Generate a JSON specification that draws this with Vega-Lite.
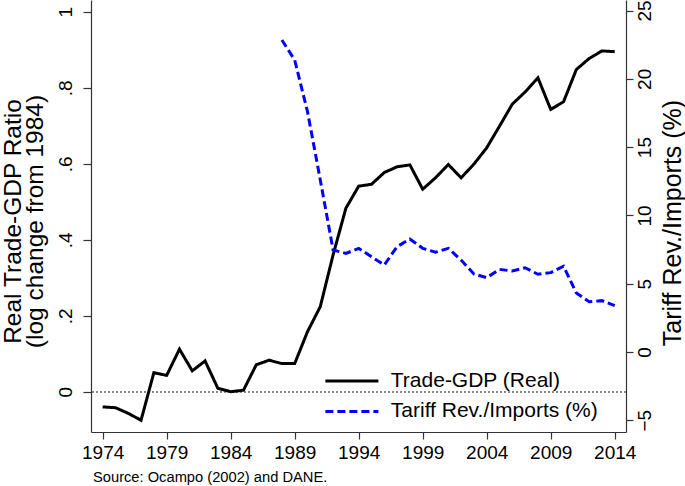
{
  "$schema": "https://vega.github.io/schema/vega-lite/v6.json",
  "width": 535,
  "height": 432,
  "autosize": {"type": "none"},
  "padding": {"left": 91, "top": 0, "right": 59, "bottom": 54},
  "background": "white",
  "config": {
    "view": {"stroke": null},
    "font": "Liberation Sans",
    "axis": {"grid": false, "domainColor": "#333333", "tickColor": "#333333", "labelColor": "#000000", "titleColor": "#000000", "labelFont": "Liberation Sans", "titleFont": "Liberation Sans", "titleFontWeight": "normal", "domainWidth": 1.2, "tickWidth": 1.2},
    "legend": {"orient": "none", "legendX": 248.4, "legendY": 368.4, "symbolType": "M-2.5,0H2.5", "symbolSize": 449.4, "symbolStrokeWidth": 3, "labelFontSize": 21, "labelFont": "Liberation Sans", "labelColor": "#000000", "labelOffset": 26.4, "labelLimit": 400, "rowPadding": 7.5, "padding": 0, "titlePadding": 0}
  },
  "title": {"text": "Source: Ocampo (2002) and DANE.", "orient": "bottom", "anchor": "start", "frame": "group", "fontSize": 14.7, "fontWeight": "normal", "font": "Liberation Sans", "color": "#000000", "offset": 8, "dx": 2},
  "data": {"values": [
    {"year": 1974, "series": "Trade-GDP (Real)", "value": -0.040},
    {"year": 1975, "series": "Trade-GDP (Real)", "value": -0.042},
    {"year": 1976, "series": "Trade-GDP (Real)", "value": -0.057},
    {"year": 1977, "series": "Trade-GDP (Real)", "value": -0.075},
    {"year": 1978, "series": "Trade-GDP (Real)", "value": 0.050},
    {"year": 1979, "series": "Trade-GDP (Real)", "value": 0.043},
    {"year": 1980, "series": "Trade-GDP (Real)", "value": 0.112},
    {"year": 1981, "series": "Trade-GDP (Real)", "value": 0.055},
    {"year": 1982, "series": "Trade-GDP (Real)", "value": 0.081},
    {"year": 1983, "series": "Trade-GDP (Real)", "value": 0.009},
    {"year": 1984, "series": "Trade-GDP (Real)", "value": 0.000},
    {"year": 1985, "series": "Trade-GDP (Real)", "value": 0.004},
    {"year": 1986, "series": "Trade-GDP (Real)", "value": 0.071},
    {"year": 1987, "series": "Trade-GDP (Real)", "value": 0.083},
    {"year": 1988, "series": "Trade-GDP (Real)", "value": 0.074},
    {"year": 1989, "series": "Trade-GDP (Real)", "value": 0.074},
    {"year": 1990, "series": "Trade-GDP (Real)", "value": 0.158},
    {"year": 1991, "series": "Trade-GDP (Real)", "value": 0.224},
    {"year": 1992, "series": "Trade-GDP (Real)", "value": 0.360},
    {"year": 1993, "series": "Trade-GDP (Real)", "value": 0.483},
    {"year": 1994, "series": "Trade-GDP (Real)", "value": 0.541},
    {"year": 1995, "series": "Trade-GDP (Real)", "value": 0.546},
    {"year": 1996, "series": "Trade-GDP (Real)", "value": 0.577},
    {"year": 1997, "series": "Trade-GDP (Real)", "value": 0.592},
    {"year": 1998, "series": "Trade-GDP (Real)", "value": 0.597},
    {"year": 1999, "series": "Trade-GDP (Real)", "value": 0.533},
    {"year": 2000, "series": "Trade-GDP (Real)", "value": 0.563},
    {"year": 2001, "series": "Trade-GDP (Real)", "value": 0.598},
    {"year": 2002, "series": "Trade-GDP (Real)", "value": 0.563},
    {"year": 2003, "series": "Trade-GDP (Real)", "value": 0.599},
    {"year": 2004, "series": "Trade-GDP (Real)", "value": 0.642},
    {"year": 2005, "series": "Trade-GDP (Real)", "value": 0.699},
    {"year": 2006, "series": "Trade-GDP (Real)", "value": 0.757},
    {"year": 2007, "series": "Trade-GDP (Real)", "value": 0.789},
    {"year": 2008, "series": "Trade-GDP (Real)", "value": 0.826},
    {"year": 2009, "series": "Trade-GDP (Real)", "value": 0.743},
    {"year": 2010, "series": "Trade-GDP (Real)", "value": 0.763},
    {"year": 2011, "series": "Trade-GDP (Real)", "value": 0.848},
    {"year": 2012, "series": "Trade-GDP (Real)", "value": 0.877},
    {"year": 2013, "series": "Trade-GDP (Real)", "value": 0.897},
    {"year": 2014, "series": "Trade-GDP (Real)", "value": 0.895},
    {"year": 1988, "series": "Tariff Rev./Imports (%)", "value": 22.84},
    {"year": 1989, "series": "Tariff Rev./Imports (%)", "value": 21.38},
    {"year": 1990, "series": "Tariff Rev./Imports (%)", "value": 17.6},
    {"year": 1991, "series": "Tariff Rev./Imports (%)", "value": 12.6},
    {"year": 1992, "series": "Tariff Rev./Imports (%)", "value": 7.47},
    {"year": 1993, "series": "Tariff Rev./Imports (%)", "value": 7.22},
    {"year": 1994, "series": "Tariff Rev./Imports (%)", "value": 7.59},
    {"year": 1995, "series": "Tariff Rev./Imports (%)", "value": 6.98},
    {"year": 1996, "series": "Tariff Rev./Imports (%)", "value": 6.37},
    {"year": 1997, "series": "Tariff Rev./Imports (%)", "value": 7.71},
    {"year": 1998, "series": "Tariff Rev./Imports (%)", "value": 8.27},
    {"year": 1999, "series": "Tariff Rev./Imports (%)", "value": 7.59},
    {"year": 2000, "series": "Tariff Rev./Imports (%)", "value": 7.30},
    {"year": 2001, "series": "Tariff Rev./Imports (%)", "value": 7.59},
    {"year": 2002, "series": "Tariff Rev./Imports (%)", "value": 6.73},
    {"year": 2003, "series": "Tariff Rev./Imports (%)", "value": 5.71},
    {"year": 2004, "series": "Tariff Rev./Imports (%)", "value": 5.44},
    {"year": 2005, "series": "Tariff Rev./Imports (%)", "value": 6.05},
    {"year": 2006, "series": "Tariff Rev./Imports (%)", "value": 5.93},
    {"year": 2007, "series": "Tariff Rev./Imports (%)", "value": 6.17},
    {"year": 2008, "series": "Tariff Rev./Imports (%)", "value": 5.69},
    {"year": 2009, "series": "Tariff Rev./Imports (%)", "value": 5.81},
    {"year": 2010, "series": "Tariff Rev./Imports (%)", "value": 6.28},
    {"year": 2011, "series": "Tariff Rev./Imports (%)", "value": 4.32},
    {"year": 2012, "series": "Tariff Rev./Imports (%)", "value": 3.68},
    {"year": 2013, "series": "Tariff Rev./Imports (%)", "value": 3.76},
    {"year": 2014, "series": "Tariff Rev./Imports (%)", "value": 3.39}
  ]},
  "layer": [
    {
      "layer": [
        {
          "mark": {"type": "rule", "color": "#888888", "strokeWidth": 1, "strokeDash": [1.2, 2.8]},
          "encoding": {"y": {"datum": 0, "type": "quantitative"}}
        },
        {
          "transform": [{"filter": "datum.series === 'Trade-GDP (Real)'"}],
          "mark": {"type": "line", "strokeWidth": 3, "strokeJoin": "miter"},
          "encoding": {
            "x": {"field": "year", "type": "quantitative", "scale": {"domain": [1973.09, 2014.88], "nice": false, "zero": false},
              "axis": {"title": null, "values": [1974, 1979, 1984, 1989, 1994, 1999, 2004, 2009, 2014], "format": "d", "labelFontSize": 19, "tickSize": 7, "labelPadding": 19.3, "labelBaseline": "alphabetic", "labelFlush": false}},
            "y": {"field": "value", "type": "quantitative", "scale": {"domain": [-0.106, 1.031], "nice": false, "zero": false},
              "axis": {"orient": "left", "title": ["Real Trade-GDP Ratio", "(log change from 1984)"], "values": [0, 0.2, 0.4, 0.6, 0.8, 1],
                "labelExpr": "replace(format(datum.value, '.1~f'), '0.', '.')",
                "labelFontSize": 19, "labelAngle": 270, "labelAlign": "center", "labelBaseline": "alphabetic", "tickSize": 8, "labelPadding": 11.5,
                "titleFontSize": 24.5, "titleAngle": 270, "titleAlign": "center", "titleBaseline": "alphabetic", "titleLineHeight": 22, "titleX": -71, "titleY": 221}},
            "color": {"field": "series", "type": "nominal", "title": null, "scale": {"domain": ["Trade-GDP (Real)", "Tariff Rev./Imports (%)"], "range": ["#000000", "#0000ff"]}},
            "strokeDash": {"field": "series", "type": "nominal", "title": null, "scale": {"domain": ["Trade-GDP (Real)", "Tariff Rev./Imports (%)"], "range": [[1, 0], [8, 4]]}}
          }
        }
      ]
    },
    {
      "transform": [{"filter": "datum.series === 'Tariff Rev./Imports (%)'"}],
      "mark": {"type": "line", "strokeWidth": 3, "strokeJoin": "miter"},
      "encoding": {
        "x": {"field": "year", "type": "quantitative"},
        "y": {"field": "value", "type": "quantitative", "scale": {"domain": [-5.857, 25.77], "nice": false, "zero": false},
          "axis": {"orient": "right", "title": "Tariff Rev./Imports (%)", "values": [-5, 0, 5, 10, 15, 20, 25],
            "labelFontSize": 19, "labelAngle": 270, "labelAlign": "center", "labelBaseline": "alphabetic", "tickSize": 7, "labelPadding": 17.8,
            "titleFontSize": 25, "titleAngle": 270, "titleAlign": "center", "titleBaseline": "alphabetic", "titleX": 54, "titleY": 222.5}},
        "color": {"field": "series", "type": "nominal", "title": null},
        "strokeDash": {"field": "series", "type": "nominal", "title": null}
      }
    }
  ],
  "resolve": {"scale": {"y": "independent"}}
}
